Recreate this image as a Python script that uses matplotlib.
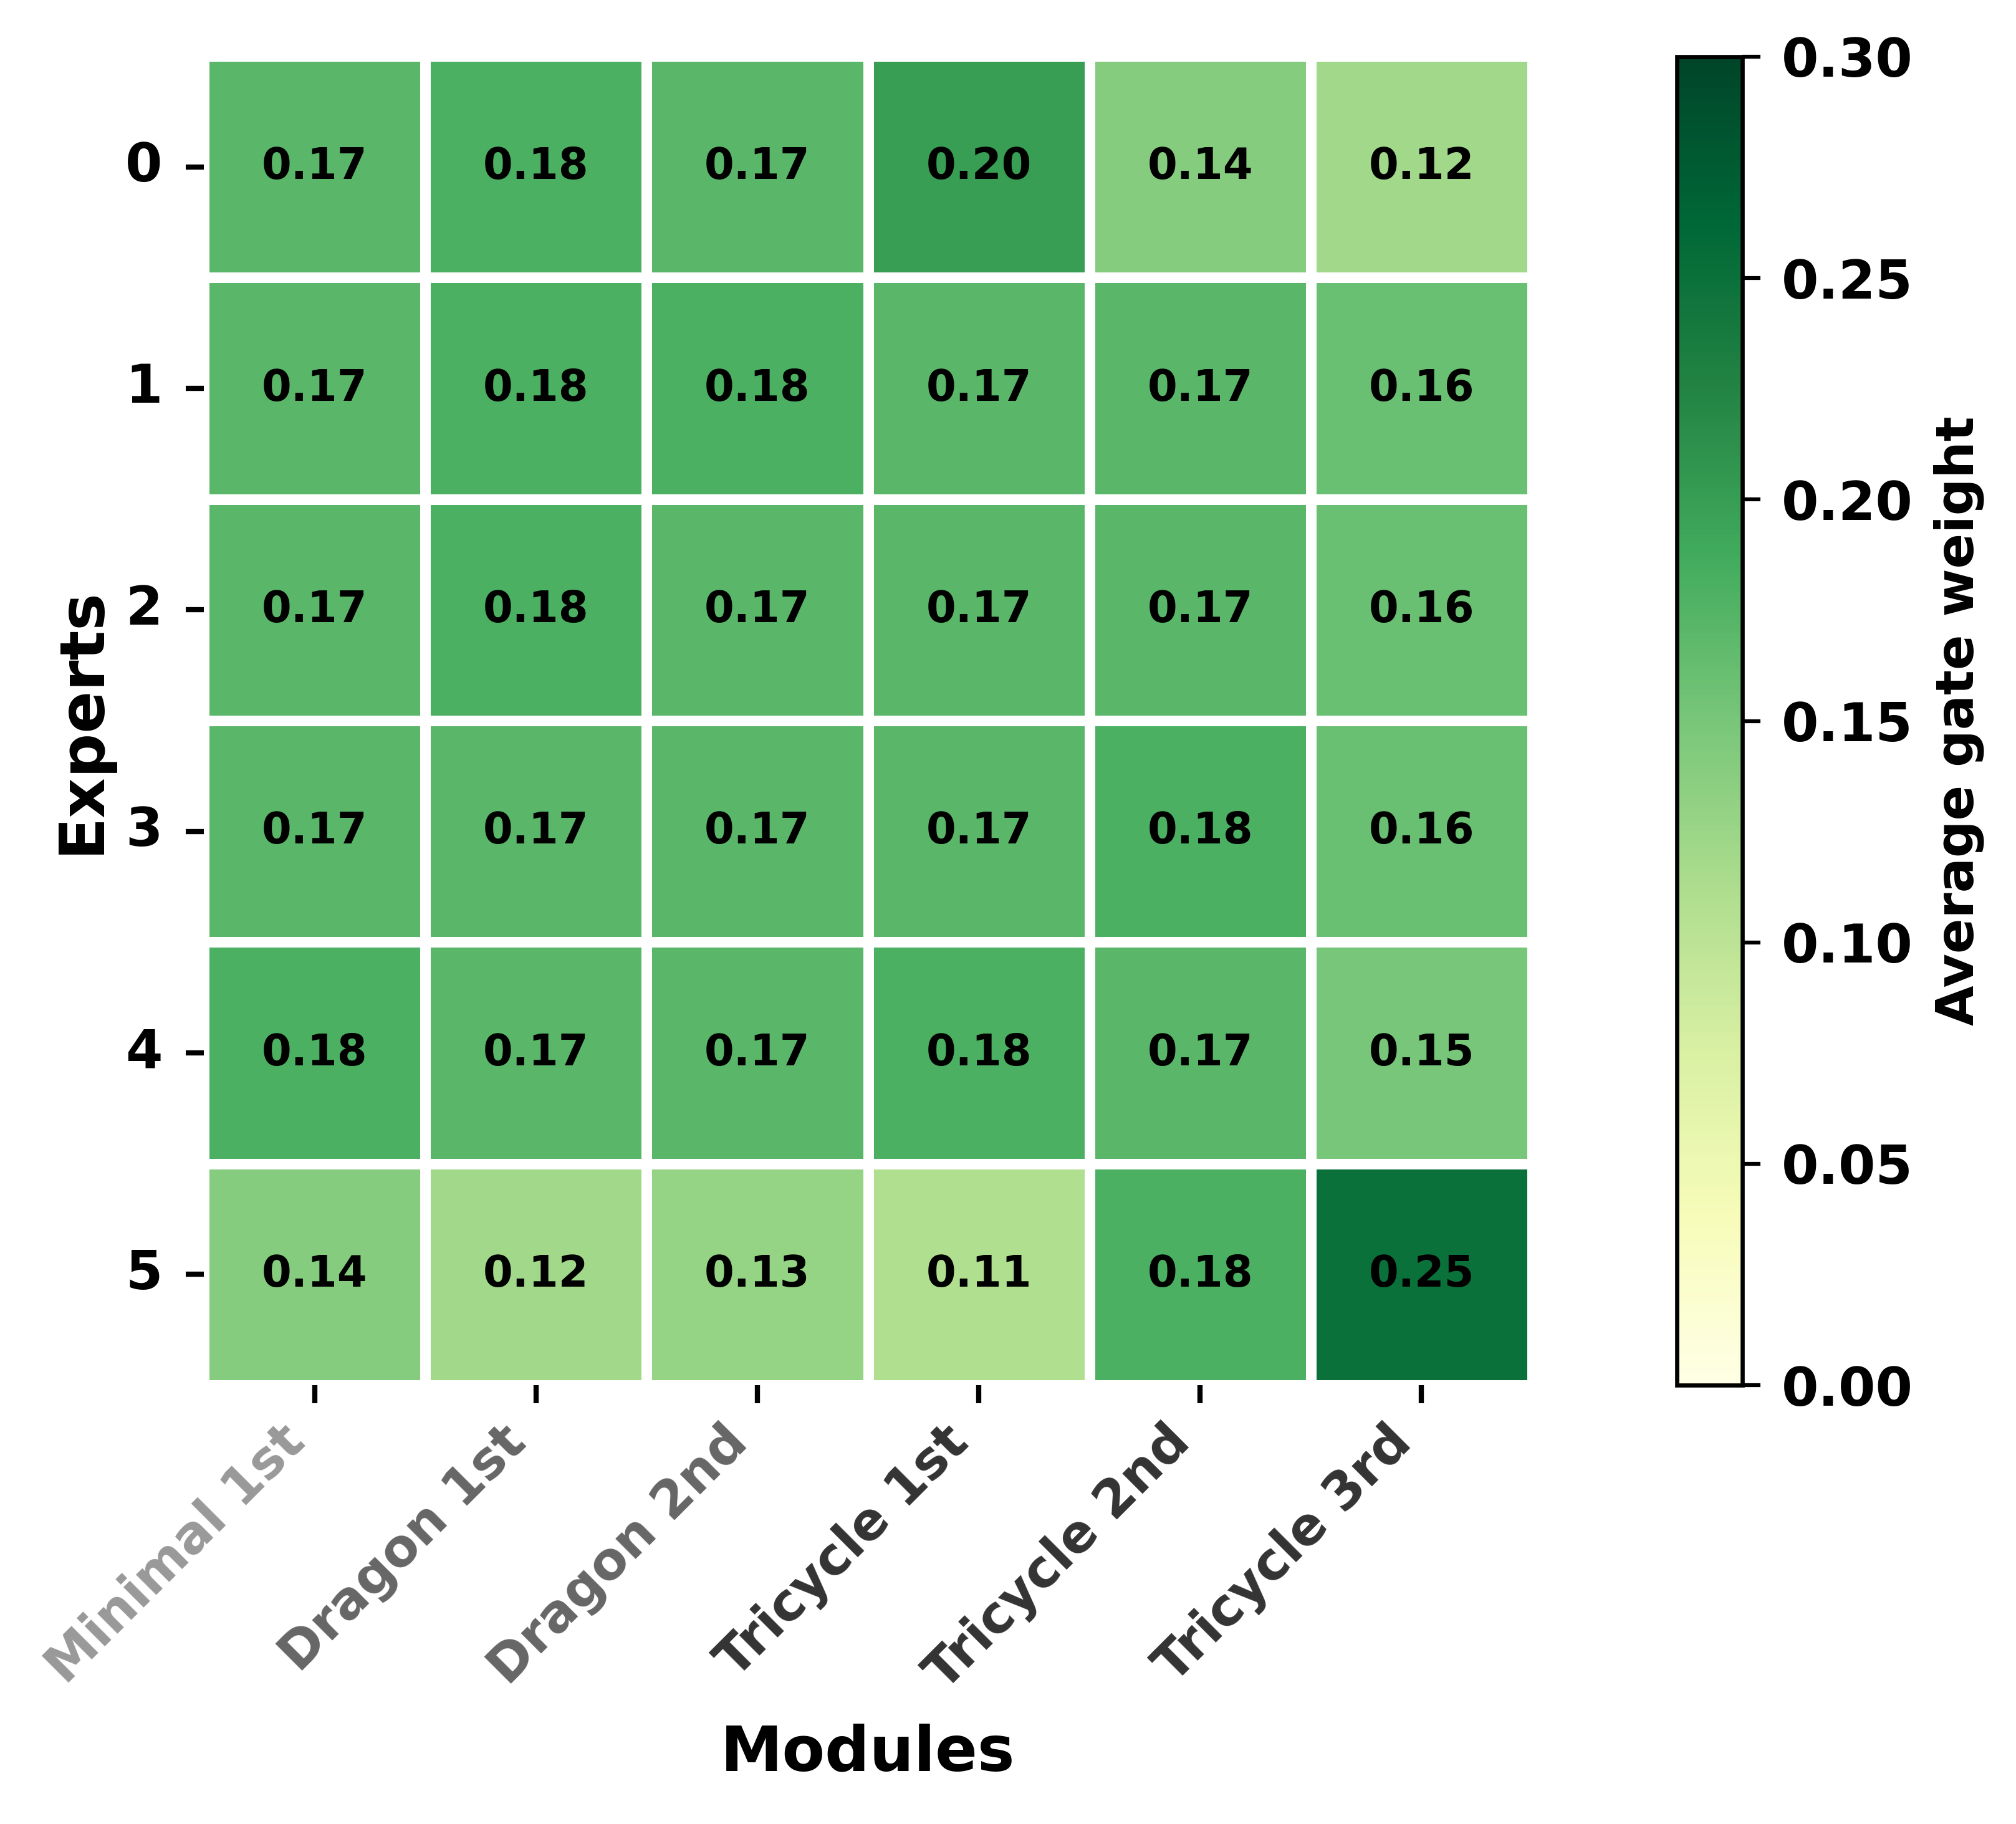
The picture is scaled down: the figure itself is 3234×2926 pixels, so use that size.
import numpy as np
import matplotlib
matplotlib.use("Agg")
import matplotlib.pyplot as plt
import seaborn as sns

modules = ["Minimal 1st", "Dragon 1st", "Dragon 2nd", "Tricycle 1st", "Tricycle 2nd", "Tricycle 3rd"]
experts = ["0", "1", "2", "3", "4", "5"]
label_colors = ["#999999", "#666666", "#666666", "#333333", "#333333", "#333333"]

row0 = [0.17, 0.18, 0.17, 0.20, 0.14, 0.12]
row1 = [0.17, 0.18, 0.18, 0.17, 0.17, 0.16]
row2 = [0.17, 0.18, 0.17, 0.17, 0.17, 0.16]
row3 = [0.17, 0.17, 0.17, 0.17, 0.18, 0.16]
row4 = [0.18, 0.17, 0.17, 0.18, 0.17, 0.15]
row5 = [0.14, 0.12, 0.13, 0.11, 0.18, 0.25]

data = np.array([row0, row1, row2, row3, row4, row5])

plt.rcParams['font.family'] = ['DejaVu Sans']
plt.rcParams['font.weight'] = 'bold'

fig = plt.figure(figsize=(3234/300, 2926/300), dpi=300)
ax = fig.add_axes([327/3234, 1-2222/2926, (2458-327)/3234, (2222-90)/2926])
cax = fig.add_axes([2690/3234, 1-2222/2926, (2795-2690)/3234, (2222-91)/2926])

sns.heatmap(data, ax=ax, cbar_ax=cax, cmap="YlGn", vmin=0, vmax=0.3,
            annot=True, fmt=".2f", linewidths=4, linecolor="white",
            annot_kws={"fontsize": 16.5, "fontweight": "bold", "color": "black"})

ax.set_xticklabels(modules, rotation=45, ha="right",
                   fontsize=20, fontweight="bold")
for lbl, c in zip(ax.get_xticklabels(), label_colors):
    lbl.set_color(c)
ax.set_yticklabels(experts, rotation=0, fontsize=20.5, fontweight="bold")
ax.tick_params(axis="x", length=7, width=2, pad=5)
ax.tick_params(axis="y", length=7, width=2, pad=9)
ax.set_xlabel("Modules", fontsize=24, fontweight="bold", labelpad=9)
ax.set_ylabel("Experts", fontsize=24, fontweight="bold", labelpad=5)

cb = ax.collections[0].colorbar
cb.outline.set_visible(True)
cb.outline.set_edgecolor("black")
cb.outline.set_linewidth(1.6)
cb.set_ticks([0, 0.05, 0.10, 0.15, 0.20, 0.25, 0.30])
cb.ax.tick_params(labelsize=20.5, length=7, width=1.5, pad=8)
for t in cb.ax.get_yticklabels():
    t.set_fontweight("bold")
cb.ax.yaxis.set_major_formatter(matplotlib.ticker.FormatStrFormatter("%.2f"))
cb.set_label("Average gate weight", fontsize=20, fontweight="bold", labelpad=8)

fig.savefig("out.png", dpi=300)
